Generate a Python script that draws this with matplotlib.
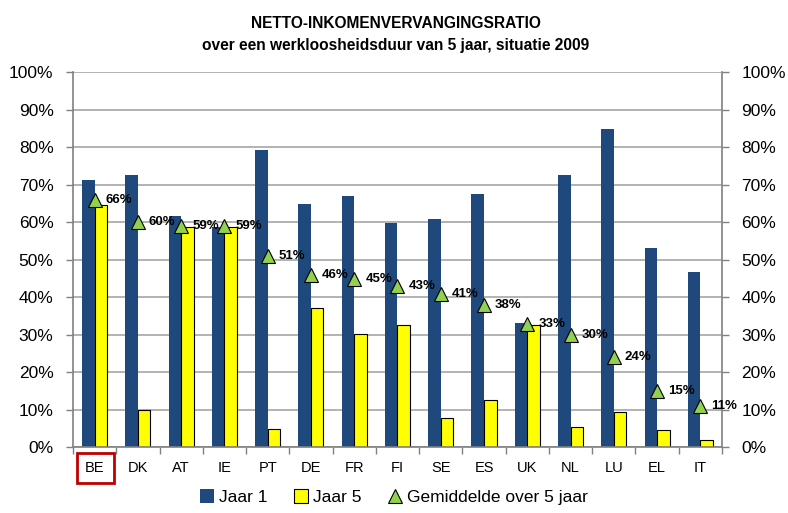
import matplotlib
matplotlib.use("Agg")
import matplotlib.pyplot as plt
import numpy as np
from matplotlib.patches import Rectangle
from matplotlib.lines import Line2D

landen = ["BE", "DK", "AT", "IE", "PT", "DE", "FR", "FI", "SE", "ES", "UK", "NL", "LU", "EL", "IT"]
jaar1 = [71.3, 72.5, 61.7, 58.8, 79.3, 64.9, 67.1, 59.9, 60.8, 67.5, 33.1, 72.5, 84.9, 53.2, 46.7]
jaar5 = [64.6, 9.9, 58.8, 58.8, 4.8, 37.1, 30.1, 32.5, 7.8, 12.6, 32.5, 5.4, 9.4, 4.7, 1.9]
gemiddeld = [66, 60, 59, 59, 51, 46, 45, 43, 41, 38, 33, 30, 24, 15, 11]

plt.rcParams["font.family"] = ["Liberation Sans", "DejaVu Sans"]

blauw = "#1F497D"
geel = "#FFFF00"
groen = "#92D050"

fig = plt.figure(figsize=(7.88, 5.13), dpi=100)
ax = fig.add_axes([0.0926, 0.128, 0.8236, 0.731])

x = np.arange(len(landen))
bw = 0.29
ax.bar(x - bw / 2, jaar1, bw, color=blauw, zorder=2)
ax.bar(x + bw / 2, jaar5, bw, color=geel, edgecolor="black", linewidth=0.8, zorder=2)
ax.plot(x, gemiddeld, linestyle="none", marker="^", markersize=9.5,
        markerfacecolor=groen, markeredgecolor="black", markeredgewidth=0.8, zorder=4)
for xi, v in zip(x, gemiddeld):
    ax.annotate(f"{v}%", (xi, v), xytext=(8, 0), textcoords="offset points",
                ha="left", va="center", fontsize=9.5, fontweight="bold", zorder=5)

ax.set_xlim(-0.5, len(landen) - 0.5)
ax.set_ylim(0, 100)
yt = np.arange(0, 101, 10)
ax.set_yticks(yt)
ax.set_yticklabels([f"{t}%" for t in yt])
ax.yaxis.grid(True, color="#A6A6A6", linewidth=1.2, zorder=0)
ax.set_axisbelow(True)
ax.tick_params(axis="y", labelsize=12.5, length=5, width=1, color="#808080", pad=9,
               left=True, right=True, labelleft=True, labelright=True)
ax.set_xticks(x)
ax.set_xticklabels(landen)
ax.set_xticks(np.arange(-0.5, len(landen), 1), minor=True)
ax.tick_params(axis="x", which="major", length=0, labelsize=10.5, pad=10)
ax.tick_params(axis="x", which="minor", length=5, width=1, color="#808080")
for s in ["left", "right", "bottom"]:
    ax.spines[s].set_color("#808080")
    ax.spines[s].set_linewidth(1.2)
ax.spines["top"].set_visible(False)

# rood kader rond BE
fig.patches.append(Rectangle((77 / 788, 1 - 483 / 513), 37 / 788, 30 / 513,
                             transform=fig.transFigure, fill=False,
                             edgecolor="#C00000", linewidth=2))

fig.text(0.502, 0.945, "NETTO-INKOMENVERVANGINGSRATIO", ha="center", va="baseline",
         fontsize=11.2, fontweight="bold")
fig.text(0.502, 0.902, "over een werkloosheidsduur van 5 jaar, situatie 2009", ha="center",
         va="baseline", fontsize=11.2, fontweight="bold")

handles = [
    Rectangle((0, 0), 1, 1, facecolor=blauw, edgecolor="none"),
    Rectangle((0, 0), 1, 1, facecolor=geel, edgecolor="black", linewidth=0.8),
    Line2D([], [], linestyle="none", marker="^", markersize=9.5, markerfacecolor=groen,
           markeredgecolor="black", markeredgewidth=0.8),
]
fig.legend(handles, ["Jaar 1", "Jaar 5", "Gemiddelde over 5 jaar"], loc="center",
           bbox_to_anchor=(0.5, 0.031), ncol=3, frameon=False, fontsize=12.5,
           handlelength=0.8, handleheight=0.9, handletextpad=0.3, columnspacing=1.5)

fig.savefig("out.png", dpi=100)
